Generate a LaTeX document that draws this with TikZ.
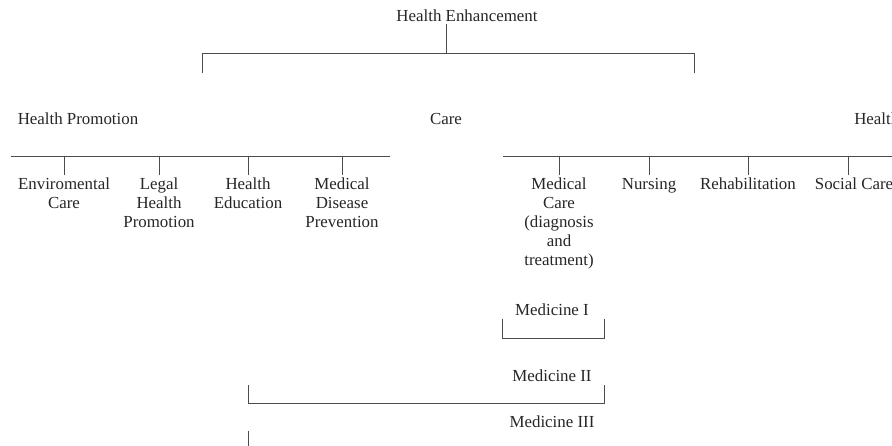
\documentclass[tikz,border=0pt]{standalone}
\usepackage{fontspec}
\setmainfont{Liberation Serif}
\tikzset{
  lbl/.style={font=\fontsize{12}{13.5}\selectfont, inner sep=0pt, align=center, text=black!85},
  tick/.style={line width=0.5pt, color=black!70}
}
\begin{document}
\begin{tikzpicture}[x=0.025cm, y=-0.025cm]
		%%%%% START %%%%%
		\useasboundingbox (0,0) rectangle (892,446);
		\clip (0,0) rectangle (892,446);
		
		% top level
		\node[lbl, anchor=base] (enh) at (467, 22) {Health Enhancement};
		\coordinate (topjoin) at (446, 53);
		\coordinate (promodrop) at (202, 73);
		\coordinate (caredrop) at (694, 73);
		\draw[tick] ([yshift=-1pt]enh.south -| topjoin) -- (topjoin);
		\draw[tick] (promodrop) -- (promodrop |- topjoin) -- (caredrop |- topjoin) -- (caredrop);
		
		\node[lbl, anchor=base] (promo) at (78, 125) {Health Promotion};
		\node[lbl, anchor=base] (care) at (446, 125) {Care};
		\node[lbl, anchor=base west] (healt) at (854, 125) {Health};
		
		% promotion branch
		\coordinate (promoleft) at (11, 156);
		\coordinate (promoright) at (390, 156);
		\draw[tick] (promoleft) -- (promoright);
		\node[lbl, anchor=north] (envcare) at (64, 178) {Enviromental\\Care};
		\node[lbl, anchor=north] (legal) at (159, 178) {Legal\\Health\\Promotion};
		\node[lbl, anchor=north] (educ) at (248, 178) {Health\\Education};
		\node[lbl, anchor=north] (prevent) at (342, 178) {Medical\\Disease\\Prevention};
		\draw[tick] ([yshift=2pt]envcare.north) -- (envcare.north |- promoleft);
		\draw[tick] ([yshift=2pt]legal.north) -- (legal.north |- promoleft);
		\draw[tick] ([yshift=2pt]educ.north) -- (educ.north |- promoleft);
		\draw[tick] ([yshift=2pt]prevent.north) -- (prevent.north |- promoleft);
		
		% care branch
		\coordinate (careleft) at (503, 156);
		\coordinate (careright) at (900, 156);
		\draw[tick] (careleft) -- (careright);
		\node[lbl, anchor=north] (medcare) at (559, 178) {Medical\\Care\\(diagnosis\\and\\treatment)};
		\node[lbl, anchor=north] (nursing) at (649, 178) {Nursing};
		\node[lbl, anchor=north] (rehab) at (748, 178) {Rehabilitation};
		\node[lbl, anchor=north] (social) at (854, 178) {Social Care};
		\coordinate (socialtick) at (848, 175);
		\draw[tick] (socialtick) -- (socialtick |- careleft);
		\draw[tick] ([yshift=2pt]medcare.north) -- (medcare.north |- careleft);
		\draw[tick] ([yshift=2pt]nursing.north) -- (nursing.north |- careleft);
		\draw[tick] ([yshift=2pt]rehab.north) -- (rehab.north |- careleft);
		
		% medicine levels
		\node[lbl, anchor=base] (medone) at (552, 315) {Medicine I};
		\node[lbl, anchor=base] (medtwo) at (552, 381) {Medicine II};
		\node[lbl, anchor=base] (medthree) at (552, 427) {Medicine III};
		
		\coordinate (oneleft) at (502, 319);
		\coordinate (oneright) at (604, 319);
		\draw[tick] (oneleft) -- (502, 338) -- (604, 338) -- (oneright);
		
		\coordinate (twoleft) at (248, 385);
		\coordinate (tworight) at (604, 385);
		\draw[tick] (twoleft) -- (248, 403) -- (604, 403) -- (tworight);
		
		\coordinate (threeleft) at (248, 431);
		\draw[tick] (threeleft) -- (248, 450);
		
		%%%%% END %%%%%
\end{tikzpicture}
\end{document}
